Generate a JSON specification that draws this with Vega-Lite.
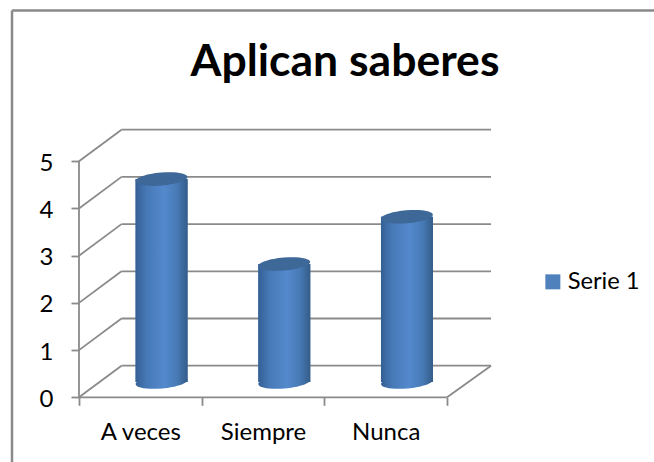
{
"$schema":"https://vega.github.io/schema/vega-lite/v6.json",
"width":654,"height":462,"padding":0,"autosize":{"type":"none"},
"background":"white",
"view":{"stroke":null},
"config":{"font":"Lato"},
"title":{"text":"Aplican saberes","font":"Lato","fontSize":44.5,"fontWeight":"bold","color":"#000000","anchor":"middle","dx":18,"offset":-120,"baseline":"alphabetic"},
"datasets":{
"niveles":[{"nivel":0},{"nivel":1},{"nivel":2},{"nivel":3},{"nivel":4},{"nivel":5}],
"serie":[{"categoria":"A veces","valor":4.3,"serie":"Serie 1"},{"categoria":"Siempre","valor":2.5,"serie":"Serie 1"},{"categoria":"Nunca","valor":3.5,"serie":"Serie 1"}]
},
"layer":[
{"data":{"name":"niveles"},
 "transform":[{"calculate":"datum.nivel+0.6695","as":"atras"}],
 "mark":{"type":"rule","color":"#8a8a8a","strokeWidth":1.8},
 "encoding":{
  "x":{"datum":0.3464,"type":"quantitative","scale":{"domain":[-0.6438,4.6862],"nice":false,"zero":false},
   "axis":{"orient":"bottom","offset":-64.7,"title":null,"grid":false,"domain":false,"values":[0,0.5,1,1.5,2,2.5,3],"tickColor":"#8a8a8a","tickWidth":1.8,"tickSize":8,"tickOpacity":{"condition":{"test":"datum.value%1===0","value":1},"value":0},"labelExpr":"datum.value===0.5?'A veces':datum.value===1.5?'Siempre':datum.value===2.5?'Nunca':''","labelFont":"Lato","labelFontSize":24,"labelColor":"#000000","labelPadding":15,"labelFlush":false,"labelOverlap":false,"labelBound":false}},
  "x2":{"datum":3.358},
  "y":{"field":"atras","type":"quantitative","scale":{"domain":[-1.3708,8.4174],"nice":false,"zero":false},
   "axis":{"orient":"left","offset":-79,"title":null,"grid":false,"domain":false,"values":[0,1,2,3,4,5],"format":"d","tickColor":"#8a8a8a","tickWidth":1.8,"tickSize":8,"labelFont":"Lato","labelFontSize":24,"labelColor":"#000000","labelPadding":18,"labelOffset":2,"labelFlush":false,"labelOverlap":false,"labelBound":false}}
 }},
{"data":{"name":"niveles"},
 "transform":[{"calculate":"datum.nivel+0.6695","as":"atras"}],
 "mark":{"type":"rule","color":"#8a8a8a","strokeWidth":1.8},
 "encoding":{"x":{"datum":0,"type":"quantitative"},"x2":{"datum":0.3464},"y":{"field":"nivel","type":"quantitative"},"y2":{"field":"atras"}}},
{"data":{"values":[{"a":1}]},
 "mark":{"type":"rule","color":"#8a8a8a","strokeWidth":1.8},
 "encoding":{"x":{"datum":0,"type":"quantitative"},"y":{"datum":0,"type":"quantitative"},"y2":{"datum":5}}},
{"data":{"values":[{"a":1}]},
 "mark":{"type":"rule","color":"#8a8a8a","strokeWidth":1.8},
 "encoding":{"x":{"datum":0,"type":"quantitative"},"x2":{"datum":3},"y":{"datum":0,"type":"quantitative"}}},
{"data":{"values":[{"a":1}]},
 "mark":{"type":"rule","color":"#8a8a8a","strokeWidth":1.8},
 "encoding":{"x":{"datum":3,"type":"quantitative"},"x2":{"datum":3.358},"y":{"datum":0,"type":"quantitative"},"y2":{"datum":0.6695}}},
{"data":{"values":[{"a":1}]},
 "mark":{"type":"rule","color":"#8a8a8a","strokeWidth":2.5},
 "encoding":{"x":{"datum":-0.546,"type":"quantitative"},"y":{"datum":-1.3708,"type":"quantitative"},"y2":{"datum":8.195}}},
{"data":{"values":[{"a":1}]},
 "mark":{"type":"rule","color":"#8a8a8a","strokeWidth":2.5},
 "encoding":{"x":{"datum":-0.546,"type":"quantitative"},"x2":{"datum":4.6862},"y":{"datum":8.195,"type":"quantitative"}}},
{"data":{"name":"serie"},
 "transform":[
  {"calculate":"indexof(['A veces','Siempre','Nunca'],datum.categoria)+0.673","as":"centro"},
  {"calculate":"datum.centro-0.2119","as":"x1"},{"calculate":"datum.centro+0.2119","as":"x2"},
  {"calculate":"datum.valor+0.324","as":"tope"},{"calculate":"0.324","as":"base"}],
 "mark":{"type":"rect"},
 "encoding":{"x":{"field":"x1","type":"quantitative"},"x2":{"field":"x2"},"y":{"field":"tope","type":"quantitative"},"y2":{"field":"base"},
  "color":{"field":"serie","type":"nominal","scale":{"domain":["Serie 1"],"range":["#4F81BD"]},
   "legend":{"orient":"none","legendX":541,"legendY":270,"title":null,"symbolType":"square","symbolSize":225,"symbolStrokeWidth":0,"labelFont":"Lato","labelFontSize":23.7,"labelColor":"#000000","labelOffset":3,"padding":0}}}},
{"data":{"name":"serie"},
 "transform":[
  {"calculate":"indexof(['A veces','Siempre','Nunca'],datum.categoria)+0.673","as":"centro"},
  {"calculate":"0.324","as":"base"}],
 "mark":{"type":"point","filled":true,"opacity":1,"size":2704,"shape":"M.996,-.087 C1.008,.051 .572,.201 .022,.249 C-.528,.297 -.984,.225 -.996,.087 C-1.008,-.051 -.572,-.201 -.022,-.249 C.528,-.297 .984,-.225 .996,-.087 Z",
  "fill":{"x1":0,"y1":0,"x2":1,"y2":0,"gradient":"linear","stops":[{"offset":0,"color":"#345f94"},{"offset":0.2,"color":"#4678b5"},{"offset":0.55,"color":"#5389cd"},{"offset":0.8,"color":"#477ab5"},{"offset":1,"color":"#345c88"}]}},
 "encoding":{"x":{"field":"centro","type":"quantitative"},"y":{"field":"base","type":"quantitative"}}},
{"data":{"name":"serie"},
 "transform":[
  {"calculate":"indexof(['A veces','Siempre','Nunca'],datum.categoria)+0.673","as":"centro"},
  {"calculate":"datum.centro-0.2119","as":"x1"},{"calculate":"datum.centro+0.2119","as":"x2"},
  {"calculate":"datum.valor+0.324","as":"tope"},{"calculate":"0.324","as":"base"}],
 "mark":{"type":"rect","fill":{"x1":0,"y1":0,"x2":1,"y2":0,"gradient":"linear","stops":[{"offset":0,"color":"#345f94"},{"offset":0.2,"color":"#4678b5"},{"offset":0.55,"color":"#5389cd"},{"offset":0.8,"color":"#477ab5"},{"offset":1,"color":"#345c88"}]}},
 "encoding":{"x":{"field":"x1","type":"quantitative"},"x2":{"field":"x2"},"y":{"field":"tope","type":"quantitative"},"y2":{"field":"base"}}},
{"data":{"name":"serie"},
 "transform":[
  {"calculate":"indexof(['A veces','Siempre','Nunca'],datum.categoria)+0.673","as":"centro"},
  {"calculate":"datum.valor+0.324","as":"tope"}],
 "mark":{"type":"point","filled":true,"opacity":1,"size":2704,"color":"#3d6898","shape":"M.996,-.087 C1.008,.051 .572,.201 .022,.249 C-.528,.297 -.984,.225 -.996,.087 C-1.008,-.051 -.572,-.201 -.022,-.249 C.528,-.297 .984,-.225 .996,-.087 Z"},
 "encoding":{"x":{"field":"centro","type":"quantitative"},"y":{"field":"tope","type":"quantitative"}}}
]
}
